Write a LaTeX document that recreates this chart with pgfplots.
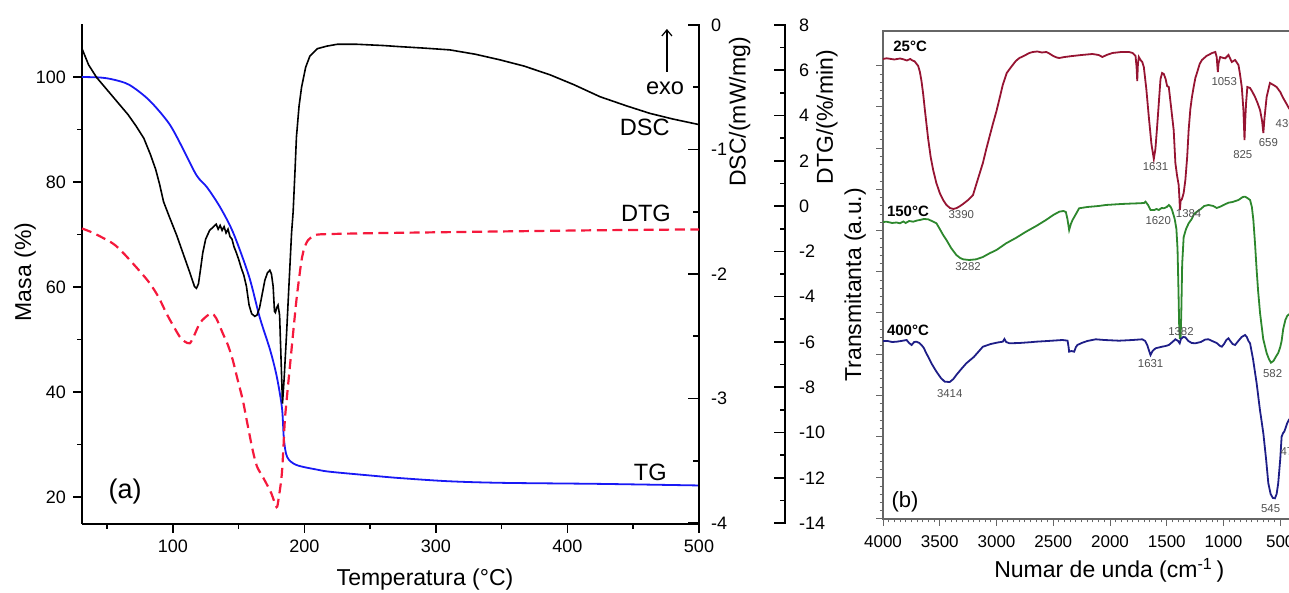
\documentclass[border=0pt]{standalone}
\usepackage{pgfplots}
\usepackage{pgfplotstable}
\pgfplotsset{compat=1.18}
\usetikzlibrary{arrows.meta}
\usepackage{fontspec}
\setmainfont{Liberation Sans}
\definecolor{dtgred}{RGB}{245,25,60}
\definecolor{tgblue}{RGB}{25,25,245}
\definecolor{ftred}{RGB}{150,20,50}
\definecolor{ftgreen}{RGB}{45,135,45}
\definecolor{ftblue}{RGB}{30,30,135}
\definecolor{peakgray}{RGB}{80,80,80}
\newcommand\fs[1]{\fontsize{#1}{#1}\selectfont}

% thermogravimetric mass loss, %
\pgfplotstableread{
T M
31 100
45 99.9
55 99.5
67 98.5
82 95.6
97 91.2
107 86.7
118 81.3
126 79.0
136 75.2
146 70.3
158 62.0
166 54.3
174 48.0
179 43.0
183 37.0
184.5 31.0
187 27.6
194 26.1
210 25.2
220 24.8
250 24.1
273 23.6
310 23.0
350 22.7
425 22.5
500 22.2
}\tgdata

% DSC signal, mW/mg
\pgfplotstableread{
T D
31 -0.19
36 -0.32
42 -0.42
50 -0.52
58 -0.62
66 -0.72
72 -0.81
78 -0.91
83 -1.04
87 -1.16
90 -1.28
93 -1.42
97 -1.53
103 -1.69
108 -1.84
113 -1.99
116.5 -2.10
118 -2.115
119.5 -2.08
121 -1.97
122.8 -1.83
125 -1.72
128 -1.65
131 -1.62
133 -1.60
134.5 -1.64
136 -1.61
137.5 -1.65
139 -1.62
140.5 -1.67
142 -1.64
143.5 -1.70
145 -1.72
146.5 -1.78
148 -1.82
150 -1.88
152 -1.95
154 -2.01
156 -2.10
158 -2.25
160 -2.32
162.4 -2.34
164 -2.33
166 -2.27
168 -2.16
170 -2.05
172 -1.99
173.8 -1.97
175 -2.00
176.3 -2.10
177.3 -2.30
178 -2.31
179 -2.27
180 -2.25
181.2 -2.33
182.2 -2.65
183.4 -3.04
184.6 -2.85
186.5 -2.48
188.5 -2.05
190.3 -1.67
191.5 -1.50
193 -1.15
194 -0.90
196 -0.65
197.9 -0.50
201 -0.34
204.2 -0.25
210 -0.19
217 -0.17
225 -0.155
240 -0.155
260 -0.165
272.6 -0.174
290 -0.185
310.6 -0.20
330 -0.235
348.7 -0.28
367 -0.33
386.7 -0.40
405 -0.48
424.7 -0.576
445 -0.65
462.7 -0.71
480 -0.755
500 -0.80
}\dscdata

% derivative of mass loss, %/min
\pgfplotstableread{
T G
31 -0.99
40 -1.2
54.4 -1.65
62 -2.05
69.6 -2.53
76 -2.95
82.5 -3.41
89 -4.0
95.2 -4.74
100 -5.25
105.3 -5.77
109 -5.98
112.9 -6.06
116 -5.75
120.5 -5.18
125 -4.9
129.4 -4.74
133 -4.95
138 -5.62
142 -6.15
145.6 -6.80
149 -7.6
153.2 -8.57
157 -9.7
160.8 -10.8
164 -11.5
168.4 -11.96
172 -12.35
175 -12.7
178.9 -13.3
180.5 -12.9
182.7 -11.96
184 -10.8
185.2 -9.45
187 -8.3
189 -7.1
191.5 -5.6
194 -4.15
196 -3.2
197.9 -2.39
200 -1.85
202.9 -1.50
207 -1.33
211.8 -1.25
240 -1.21
272.6 -1.18
350 -1.12
420 -1.07
500 -1.03
}\dtgdata

% FTIR spectra (wavenumber, transmittance in a.u.)
\pgfplotstableread{
w t
4000 460
3968 460.7
3900 459.5
3850 460.5
3821 459.7
3790 458.5
3760 460
3748 459
3720 457.5
3690 453
3675 447
3661 438
3646 425
3632 410
3617 395
3602 380
3580 362
3558 349
3530 336
3500 326
3470 319
3441 314
3410 311
3380 310
3350 311
3320 313
3295 315
3250 319
3207 324
3180 334
3150 345
3120 356
3090 370
3060 383
3032 395
3000 408
2970 422
2945 434
2910 446
2871 452
2830 458
2798 461
2760 463
2711 466
2680 467
2640 467.5
2600 466.5
2560 467
2535 465.5
2500 463
2470 461.5
2447 461
2400 462
2330 463
2250 464
2155 465
2100 464
2067 462
2030 464
1979 466
1900 467
1833 467
1800 466
1775 463
1766 452
1760 438
1754 455
1746 462
1731 459
1716 457
1702 452
1680 430
1658 402
1635 375
1614 360
1600 370
1585 392
1570 416
1555 440
1541 446
1526 445
1510 440
1497 433
1482 432
1460 410
1439 389
1424 356
1410 344
1395 334
1388 320
1384 309
1378 318
1366 320
1351 326
1336 339
1320 362
1307 389
1292 410
1278 422
1263 432
1248 441
1234 446
1210 455
1190 459
1150 463
1100 466
1072 467
1060 462
1050 447
1043 456
1029 462
1000 461
985 460.7
956 464
927 457
898 459
868 454
855 445
839 432
825 410
815 379
808 400
801 416
790 432
766 431
745 427
722 422
700 416
678 409
660 398
649 386
638 402
620 422
591 436
560 434
532 432
500 427
474 421
439 414
420 410
}\ftA

\pgfplotstableread{
w t
4000 297
3968 297.3
3920 296
3880 296.5
3851 295.7
3820 297.5
3800 296
3770 298
3734 297.3
3700 298.5
3675 299
3640 300
3602 299.7
3570 298
3529 295.7
3500 290
3470 284
3441 279
3400 271
3354 264
3320 261
3295 259.7
3240 259
3178 259.7
3120 262
3061 265.7
3000 269
2915 275.7
2830 281
2740 287.3
2650 293
2564 299
2500 304
2447 307.3
2410 308
2389 307
2375 300
2360 289
2345 295
2330 299
2300 305
2272 310.7
2200 312
2100 313
2038 314
1900 315
1800 315.5
1746 315.7
1700 316
1687 317.3
1665 314
1643 309
1610 309
1590 310
1570 309
1545 311
1526 310.7
1500 312
1482 314
1465 312
1453 309
1430 300
1415 290
1405 270
1397 230
1390 190
1385 181
1378 181
1372 205
1364 255
1351 282
1330 290
1307 295.7
1280 300
1260 305
1234 307.3
1200 310
1170 313
1132 314
1090 313
1060 311
1029 312.3
1000 314
956 316.3
920 317
868 319
830 322
810 322.3
790 321
766 319
750 312
737 299
722 275
708 249
695 228
678 206
650 180
620 166
600 160
582 156.3
560 158
540 162
518 166
500 172
488 178
474 190
455 199
439 203
420 205
}\ftB

\pgfplotstableread{
w t
4000 178
3960 178
3920 177
3880 177.3
3840 178
3792 179
3770 176
3748 174
3725 177
3705 177.3
3680 176
3661 174
3640 171
3620 166
3602 162.3
3570 155
3529 147.3
3490 141
3456 137.3
3412 137
3380 140
3354 144
3310 150
3266 155.7
3200 162
3120 172.3
3050 175
2990 176.5
2945 177.3
2930 180
2915 177
2886 175.7
2800 176
2700 176.8
2652 177.3
2550 178
2418 179
2374 178.3
2365 172
2360 167.3
2340 168
2316 167.3
2300 172
2287 174
2250 176
2200 178
2125 179.7
2050 179
1921 178.3
1800 179
1716 179.7
1690 178
1672 174
1655 168
1643 164
1625 168
1599 170.7
1570 171.5
1541 172.3
1510 173
1482 174
1450 177
1424 179.7
1400 178
1386 175.7
1375 180
1355 182
1336 181.7
1310 178
1280 176
1249 175.7
1200 177
1160 179.5
1132 179.7
1100 178
1060 176
1030 173
1015 172.3
995 175
975 179
956 180.7
940 178
920 175
898 174
870 178
840 182
810 184
795 182
780 178
766 175.7
740 160
708 135.7
680 110
649 85.7
625 60
605 35.7
585 25
565 21
547 20.7
532 25
518 35.7
500 60
488 82.3
475 86
465 87.3
450 92
439 95.7
420 100
}\ftC

\begin{document}
\begin{tikzpicture}
\pgfplotsset{
  every axis/.append style={
    scale only axis, clip=false,
    /pgf/number format/assume math mode=true,
    /pgf/number format/set thousands separator={},
  },
  thermo/.style={
    at={(41pt,34.5pt)}, anchor=south west,
    width=308.5pt, height=250pt,
    xmin=31, xmax=500,
    axis line style={line width=1pt, -},
    every tick/.append style={line width=0.8pt, black},
    tick label style={font=\fs{9}},
  },
}

% mass (TG) axis: left and bottom lines
\begin{axis}[thermo,
  ymin=14.86, ymax=110.1,
  axis x line*=bottom, axis y line*=left,
  tick align=outside,
  xtick={100,200,300,400,500}, minor xtick={50,150,250,350,450},
  ytick={20,40,60,80,100}, minor ytick={30,50,70,90},
  major tick length=4.5pt, minor tick length=2.5pt,
]
\addplot[tgblue, line width=0.9pt, smooth] table[x=T, y=M] {\tgdata};
\node[font=\fs{11.5}] at (axis description cs:0.556,-0.112) {Temperatura (°C)};
\node[font=\fs{11.5}, rotate=90] at (axis description cs:-0.092,0.504) {Masa (\%)};
\node[font=\fs{11.5}, rotate=90] at (axis description cs:1.066,0.824) {DSC/(mW/mg)};
\node[font=\fs{11.5}, rotate=90] at (axis description cs:1.2075,0.814) {DTG/(\%/min)};
\node[font=\fs{11.8}] at (axis description cs:0.945,0.872) {exo};
\draw[-{Straight Barb[length=3pt,width=5pt]}, line width=0.6pt]
  (axis description cs:0.948,0.904) -- (axis description cs:0.948,0.990);
\node[font=\fs{11.8}] at (axis description cs:0.912,0.794) {DSC};
\node[font=\fs{11.8}] at (axis description cs:0.914,0.622) {DTG};
\node[font=\fs{11.8}] at (axis description cs:0.921,0.104) {TG};
\node[font=\fs{13.5}] at (axis description cs:0.070,0.064) {(a)};
\end{axis}

% DSC axis on the right edge of the box
\begin{axis}[thermo,
  ymin=-4.008, ymax=0.008,
  axis x line=none, axis y line*=right,
  tick align=inside,
  ytick={-4,-3,-2,-1,0}, minor ytick={-3.5,-2.5,-1.5,-0.5},
  major tick length=5.3pt, minor tick length=2.8pt,
  yticklabel style={xshift=2.5pt},
]
\addplot[black, line width=0.8pt] table[x=T, y=D] {\dscdata};
\end{axis}

% DTG curve in the same box
\begin{axis}[thermo,
  ymin=-14.044, ymax=8.044,
  hide axis,
]
\addplot[dtgred, line width=1.1pt, dash pattern=on 5pt off 2.8pt, smooth] table[x=T, y=G] {\dtgdata};
\end{axis}

% DTG scale, offset to the right
\begin{axis}[
  at={(392.5pt,34.5pt)}, anchor=south east,
  width=10pt, height=250pt,
  xmin=0, xmax=1,
  ymin=-14.044, ymax=8.044,
  axis x line=none, axis y line*=right,
  axis line style={line width=1pt, -},
  every tick/.append style={line width=0.8pt, black},
  tick label style={font=\fs{9}},
  tick align=inside,
  ytick={-14,-12,...,8}, minor ytick={-13,-11,...,7},
  major tick length=5.5pt, minor tick length=2.5pt,
  yticklabel style={xshift=3.5pt},
]
\end{axis}

% FTIR spectra
\begin{axis}[
  at={(441.5pt,37pt)}, anchor=south west,
  width=204.3pt, height=244pt,
  x dir=reverse, xmin=400, xmax=4000, ymin=0, ymax=488,
  axis line style={line width=0.7pt, black!60},
  every tick/.append style={line width=0.5pt, black!60},
  tick align=outside,
  xtick pos=bottom, ytick pos=left,
  xtick={500,1000,...,4000}, minor x tick num=9,
  ytick={0,41.2,82.4,123.6,164.8,206,247.2,288.4,329.6,370.8,412,453.2},
  yticklabels={}, minor y tick num=4,
  major tick length=3.3pt, minor tick length=1.7pt,
  tick label style={font=\fs{8.5}},
  xticklabel style={yshift=-1.5pt},
]
\addplot[ftred, line width=0.9pt] table[x=w, y=t] {\ftA};
\addplot[ftgreen, line width=0.9pt] table[x=w, y=t] {\ftB};
\addplot[ftblue, line width=0.9pt] table[x=w, y=t] {\ftC};
\node[font=\fs{11.5}] at (axis description cs:0.554,-0.105) {Numar de unda (cm\textsuperscript{-1}\,)};
\node[font=\fs{11.5}, rotate=90] at (axis description cs:-0.068,0.48) {Transmitanta (a.u.)};
\node[font=\bfseries\fs{7.5}, anchor=west, inner sep=0pt] at (axis cs:3912,472.3) {25°C};
\node[font=\bfseries\fs{7.5}, anchor=west, inner sep=0pt] at (axis cs:3968,307.3) {150°C};
\node[font=\bfseries\fs{7.5}, anchor=west, inner sep=0pt] at (axis cs:3968,189) {400°C};
\node[font=\fs{11}] at (axis cs:3806,17.3) {(b)};
\begin{scope}[every node/.style={font=\fs{5.7}, text=peakgray, inner sep=0pt}]
\node at (axis cs:3310,304) {3390};
\node at (axis cs:1599,352.3) {1631};
\node at (axis cs:1307,305.7) {1384};
\node at (axis cs:994,437.3) {1053};
\node at (axis cs:830,364) {825};
\node at (axis cs:605,376.3) {659};
\node[anchor=west] at (axis cs:544,395) {436};
\node at (axis cs:3251,252.3) {3282};
\node at (axis cs:1575,298.3) {1620};
\node at (axis cs:567,145.7) {582};
\node at (axis cs:1375,187.3) {1382};
\node at (axis cs:1642,155.7) {1631};
\node at (axis cs:3412,125) {3414};
\node at (axis cs:585,10.7) {545};
\node[anchor=west] at (axis cs:500,67) {471};
\end{scope}
\end{axis}

\pgfresetboundingbox
\useasboundingbox (0,0) rectangle (644.5pt,296.5pt);
\end{tikzpicture}
\end{document}
